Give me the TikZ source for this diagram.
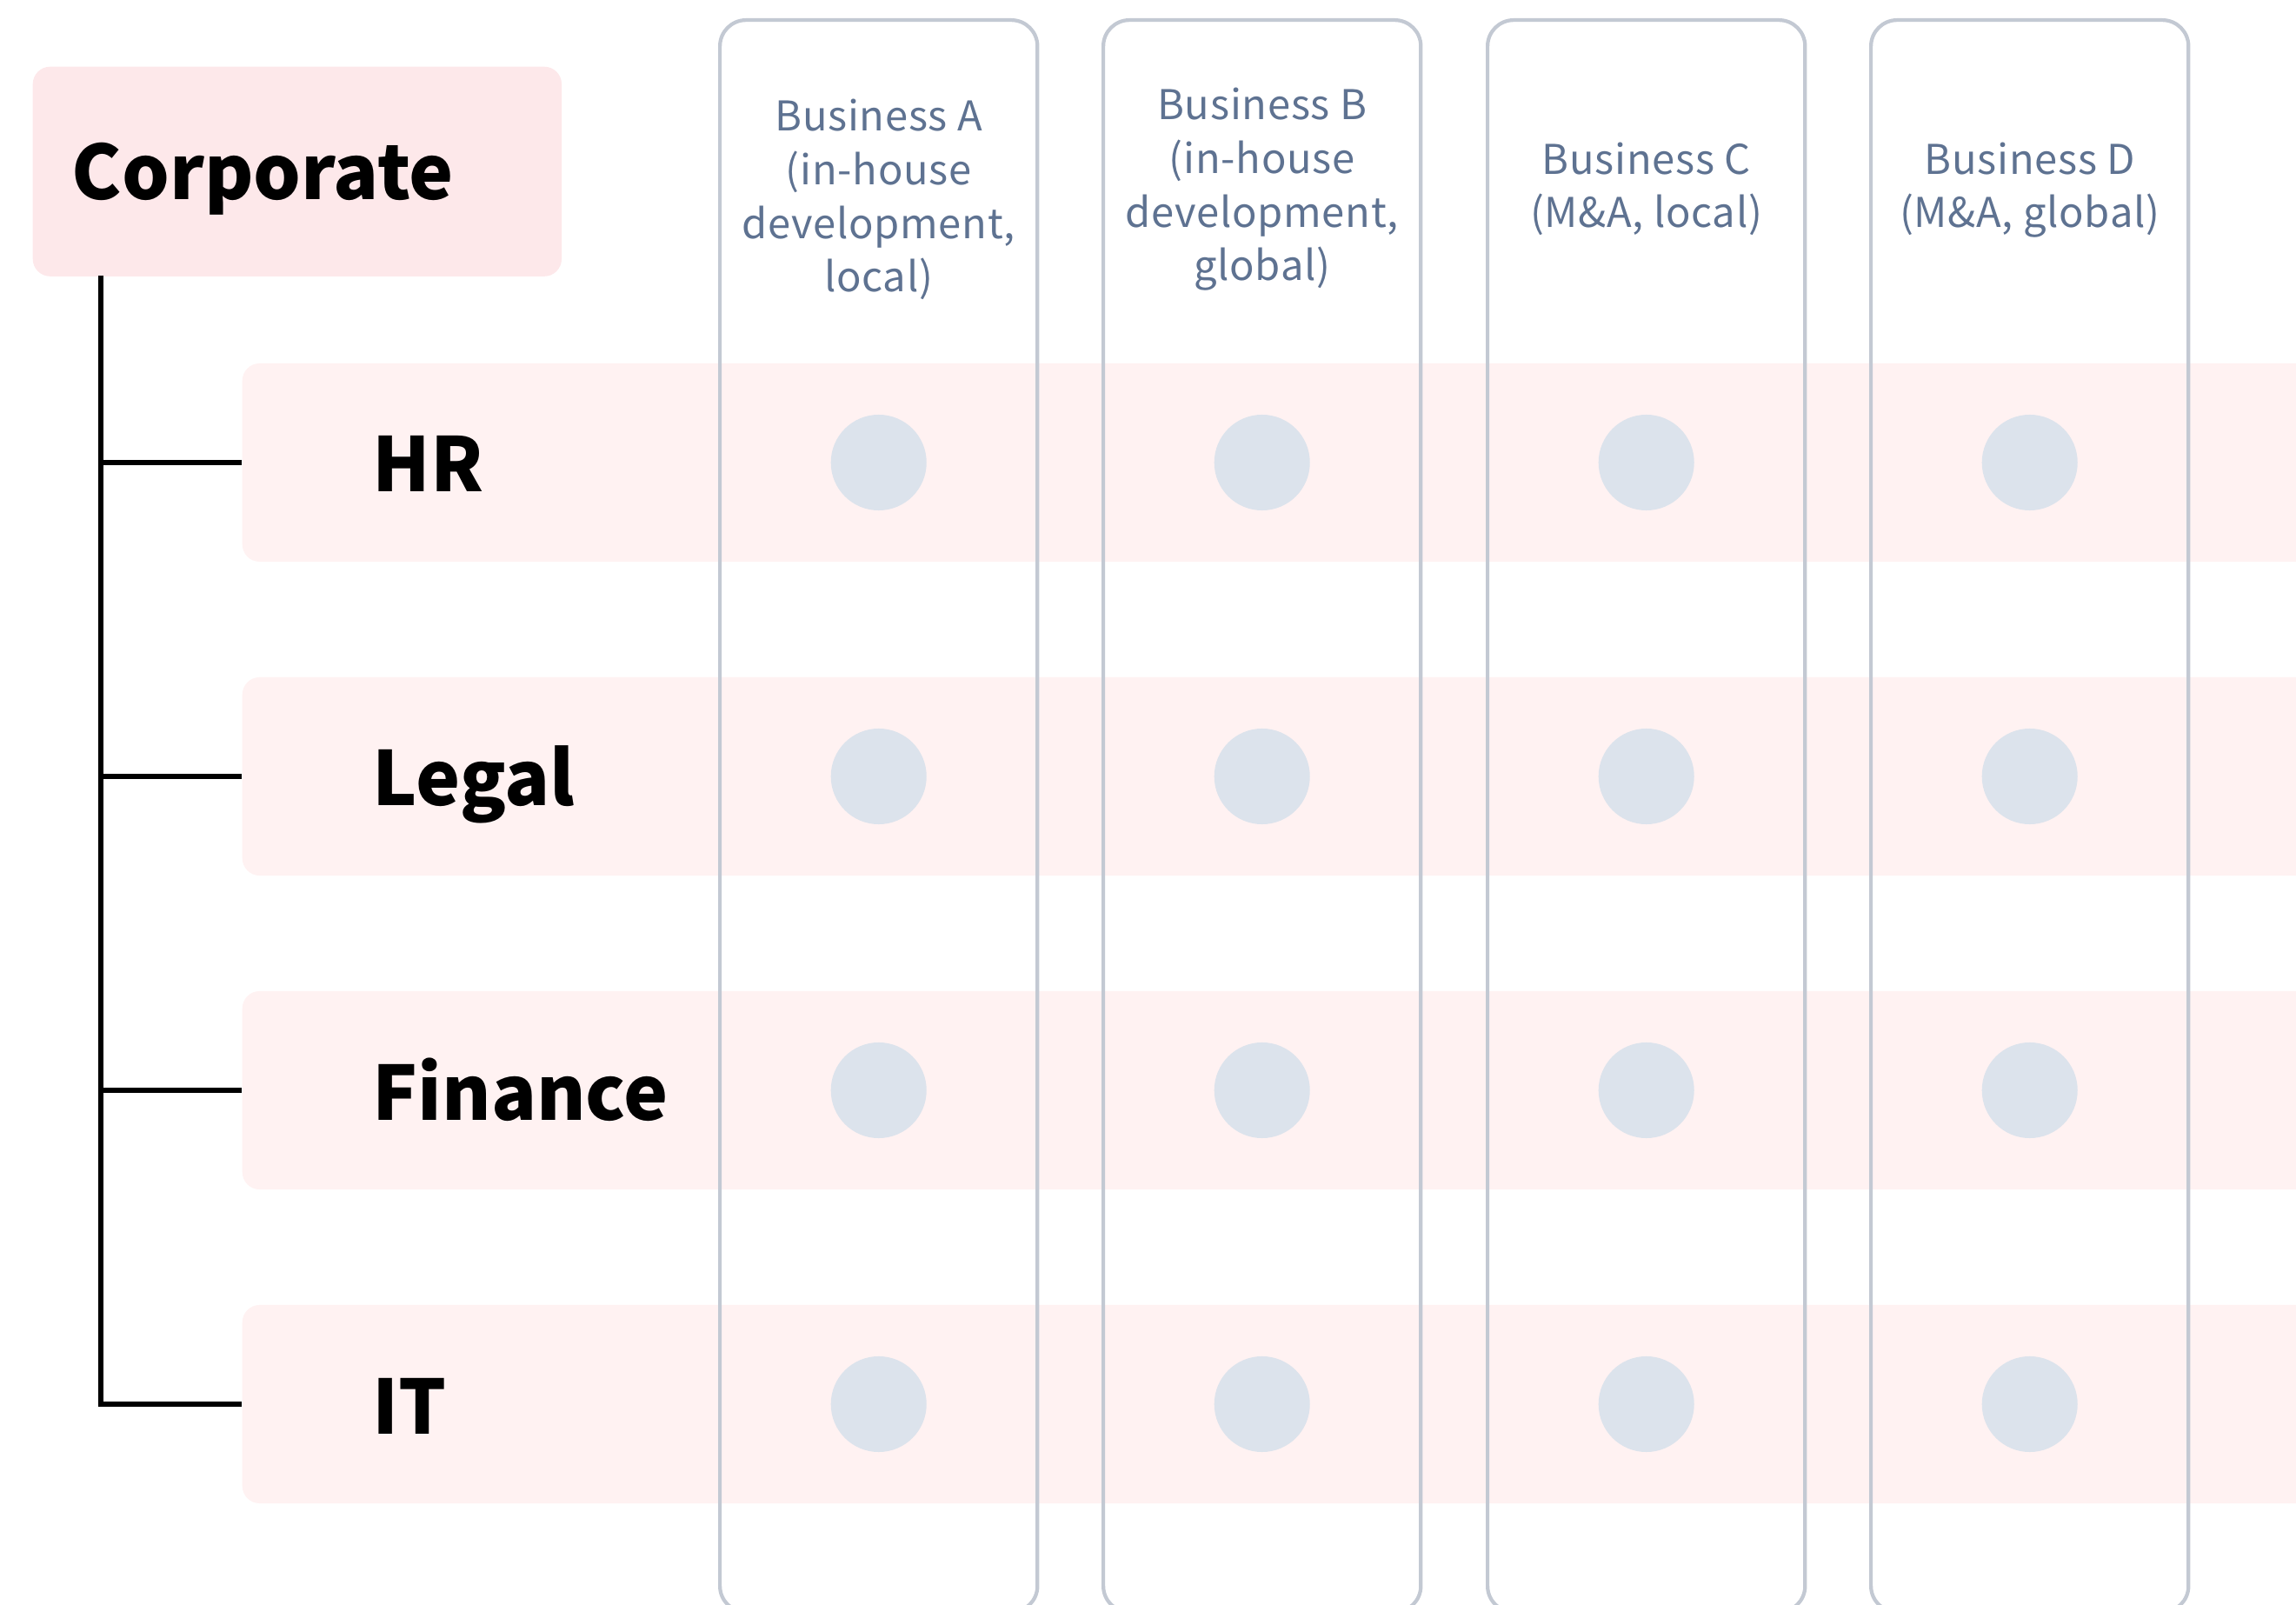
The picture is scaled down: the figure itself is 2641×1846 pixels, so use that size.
\documentclass[tikz,border=0pt]{standalone}
\usepackage{fontspec}
\setmainfont{Noto Sans CJK JP}
\newfontfamily\headfont[LetterSpace=1.5]{Noto Sans CJK JP}
\usetikzlibrary{positioning}

\definecolor{corppink}{HTML}{FDE8EA}
\definecolor{rowpink}{HTML}{FFF2F2}
\definecolor{colgray}{HTML}{C3C9D3}
\definecolor{dotblue}{HTML}{DCE3EC}
\definecolor{headslate}{HTML}{5E7291}

\begin{document}
\begin{tikzpicture}[x=0.01cm,y=-0.01cm,
  corpbox/.style={fill=corppink, rounded corners=0.2cm, minimum width=6.08cm, minimum height=2.41cm, inner sep=0, anchor=north west},
  rowband/.style={fill=rowpink, rounded corners=0.2cm, minimum width=24.3cm, minimum height=2.28cm, inner sep=0, anchor=west},
  colbox/.style={draw=colgray, line width=1.2pt, rounded corners=0.3cm, minimum width=3.65cm, minimum height=18.3cm, inner sep=0, anchor=north west},
  cell/.style={circle, fill=dotblue, minimum size=1.1cm, inner sep=0},
  headtext/.style={text=headslate, font=\headfont\fontsize{13.4}{17.6}\selectfont, align=center, anchor=base, inner sep=0},
  unitname/.style={font=\bfseries\fontsize{24.5}{28}\selectfont, anchor=base west, inner sep=0},
  treeline/.style={line width=1.6pt}]
\useasboundingbox (0,0) rectangle (2641,1846);

% corporate head box
\node[corpbox] (corp) at (37,76) {};
\node[unitname] (corptext) at (82,230) {Corporate};

% function rows
\foreach \r/\y/\t in {hr/532/HR, legal/893/Legal, finance/1254/Finance, it/1615/IT}{
  \node[rowband] (\r) at (278,\y) {};
  \node[unitname] (\r-text) at (428,\y+34) {\t};
}

% business columns
\foreach \c/\x in {a/826, b/1267, c/1709, d/2150}
  \node[colbox] (col-\c) at (\x,21) {};

% base of a header sits on its last line
\node[headtext] (head-a) at (col-a.north |- 0,336) {Business A\\(in-house\\development,\\local)};
\node[headtext] (head-b) at (col-b.north |- 0,323) {Business B\\(in-house\\development,\\global)};
\node[headtext] (head-c) at (col-c.north |- 0,262) {Business C\\(M\&A, local)};
\node[headtext] (head-d) at (col-d.north |- 0,262) {Business D\\(M\&A, global)};

% one dot per row and column
\foreach \r in {hr,legal,finance,it}
  \foreach \c in {a,b,c,d}
    \node[cell] (\r-\c) at (col-\c.north |- \r.west) {};

% tree
\coordinate (trunk) at (116,317);
\draw[treeline] (trunk) |- (it.west);
\foreach \r in {hr,legal,finance}
  \draw[treeline] (trunk |- \r.west) -- (\r.west);
\end{tikzpicture}
\end{document}
